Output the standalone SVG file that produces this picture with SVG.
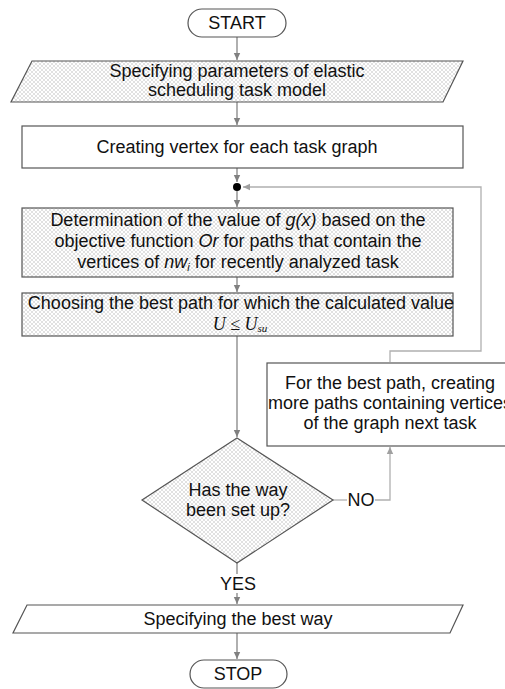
<svg xmlns="http://www.w3.org/2000/svg" width="505" height="689" viewBox="0 0 505 689">
<defs>
<pattern id="hatch" width="4" height="4" patternUnits="userSpaceOnUse">
<rect width="4" height="4" fill="#ffffff"/>
<path d="M0,0 L4,4 M4,0 L0,4" stroke="#d4d4d4" stroke-width="0.7"/>
</pattern>
<marker id="arr" markerWidth="8" markerHeight="8" refX="7" refY="4" orient="auto" markerUnits="userSpaceOnUse">
<path d="M0,0.8 L7,4 L0,7.2 Z" fill="#808080"/>
</marker>
<marker id="arrL" markerWidth="8" markerHeight="8" refX="7" refY="4" orient="auto" markerUnits="userSpaceOnUse">
<path d="M0,0.8 L7,4 L0,7.2 Z" fill="#a0a0a0"/>
</marker>
</defs>
<style>
.t{font-family:"Liberation Sans",Arial,sans-serif;font-size:18px;fill:#111;text-anchor:middle}
.box{stroke:#555;stroke-width:1.2}
.plain{fill:#fff}
.hat{fill:url(#hatch)}
.c{fill:none;stroke:#858585;stroke-width:1.3}
.cl{fill:none;stroke:#b0b0b0;stroke-width:1.3}
.i{font-style:italic}
.m{font-family:"Liberation Serif","Times New Roman",serif;font-style:italic}
</style>
<rect width="505" height="689" fill="#fff"/>

<g id="connectors">
<path class="c" d="M237,37 V60" marker-end="url(#arr)"/>
<path class="c" d="M237,102 V125" marker-end="url(#arr)"/>
<path class="c" d="M237,168 V182" marker-end="url(#arr)"/>
<path class="c" d="M237,191 V207" marker-end="url(#arr)"/>
<path class="cl" d="M390,362 V351 H481 V187 H243" marker-end="url(#arrL)"/>
<path class="c" d="M237,277 V292" marker-end="url(#arr)"/>
<path class="c" d="M237,336 V437" marker-end="url(#arr)"/>
<path class="cl" d="M333,500 H347"/>
<path class="cl" d="M375,500 H390 V447" marker-end="url(#arrL)"/>
<path class="c" d="M237,563 V574"/>
<path class="c" d="M237,593 V604" marker-end="url(#arr)"/>
<path class="c" d="M237,633 V659" marker-end="url(#arr)"/>
<circle cx="237" cy="187" r="4" fill="#000"/>
<text class="t" x="361" y="506">NO</text>
<text class="t" x="238" y="590">YES</text>
</g>

<g id="start">
<rect class="box plain" x="188" y="9" width="98" height="28" rx="14"/>
<text class="t" x="237" y="29">START</text>
</g>

<g id="params">
<polygon class="box hat" points="32,61 463,61 443,102 11,102"/>
<text class="t" x="237" y="77">Specifying parameters of elastic</text>
<text class="t" x="237" y="96">scheduling task model</text>
</g>

<g id="vertex">
<rect class="box plain" x="22" y="126" width="441" height="42"/>
<text class="t" x="237" y="153">Creating vertex for each task graph</text>
</g>

<g id="determination">
<rect class="box hat" x="22" y="208" width="431" height="69"/>
<text class="t" x="238" y="226">Determination of the value of <tspan class="i">g(x)</tspan> based on the</text>
<text class="t" x="238" y="247">objective function <tspan class="i">Or</tspan> for paths that contain the</text>
<text class="t" x="238" y="268">vertices of <tspan class="i">nw</tspan><tspan class="i" font-size="11" dy="3">i</tspan><tspan dy="-3"> for recently analyzed task</tspan></text>
</g>

<g id="choosing">
<rect class="box hat" x="22" y="293" width="431" height="43"/>
<text class="t" x="241" y="309">Choosing the best path for which the calculated value</text>
<text class="t m" x="240" y="330">U ≤ U<tspan font-size="11" dy="2">su</tspan></text>
</g>

<g id="morepaths">
<rect class="box plain" x="267" y="363" width="248" height="83"/>
<text class="t" x="390" y="389">For the best path, creating</text>
<text class="t" x="390" y="409">more paths containing vertices</text>
<text class="t" x="390" y="429">of the graph next task</text>
</g>

<g id="decision">
<polygon class="box hat" points="237,438 333,500 237,563 142,500"/>
<text class="t" x="238" y="496">Has the way</text>
<text class="t" x="238" y="516">been set up?</text>
</g>

<g id="best">
<polygon class="box plain" points="27,605 463,605 450,633 13,633"/>
<text class="t" x="238" y="625">Specifying the best way</text>
</g>

<g id="stop">
<rect class="box plain" x="190" y="660" width="97" height="28" rx="14"/>
<text class="t" x="238" y="680">STOP</text>
</g>
</svg>
